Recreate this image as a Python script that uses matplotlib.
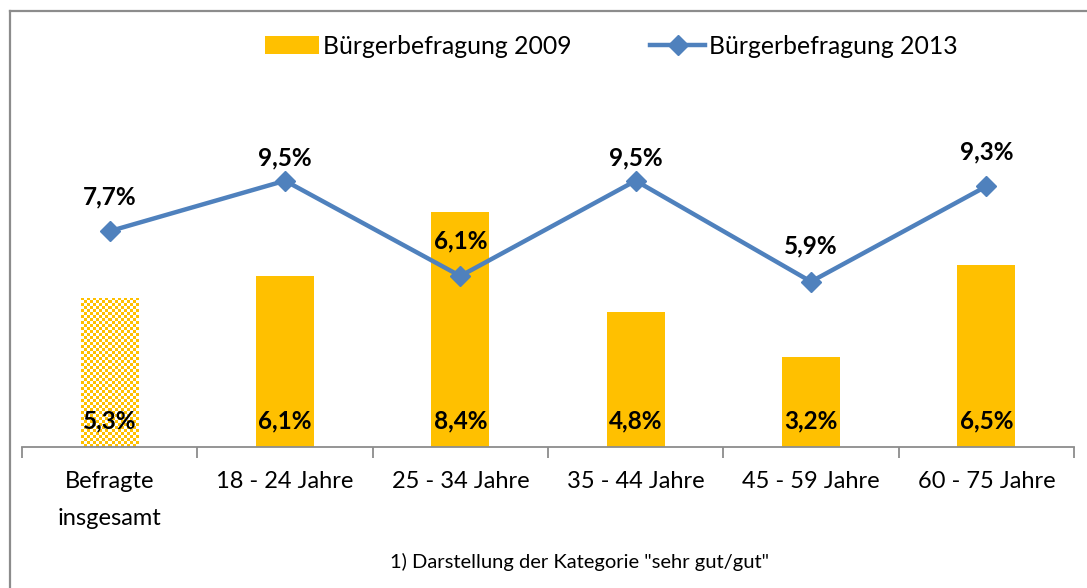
import numpy as np
import matplotlib.pyplot as plt
from matplotlib.lines import Line2D
from matplotlib.patches import Patch

plt.rcParams['font.family'] = ['Lato', 'DejaVu Sans']

categories = ['Befragte\ninsgesamt', '18 - 24 Jahre', '25 - 34 Jahre',
              '35 - 44 Jahre', '45 - 59 Jahre', '60 - 75 Jahre']
values_2009 = [5.3, 6.1, 8.4, 4.8, 3.2, 6.5]
values_2013 = [7.7, 9.5, 6.1, 9.5, 5.9, 9.3]
labels_2009 = ['5,3%', '6,1%', '8,4%', '4,8%', '3,2%', '6,5%']
labels_2013 = ['7,7%', '9,5%', '6,1%', '9,5%', '5,9%', '9,3%']

## Label placement above the line points (Excel pushed some down)
label_offsets = [1.23, 0.82, 1.27, 0.82, 1.29, 1.23]

BAR_COLOR = '#FFC000'
LINE_COLOR = '#4F81BD'
W, H = 1087, 588

fig = plt.figure(figsize=(W / 100, H / 100), dpi=100)

## Outer frame (top and left visible)
fig.add_artist(Line2D([10 / W, 10 / W], [0, 1 - 11 / H], transform=fig.transFigure,
                      color='#8c8c8c', lw=1.6))
fig.add_artist(Line2D([10 / W, 1], [1 - 11 / H, 1 - 11 / H], transform=fig.transFigure,
                      color='#8c8c8c', lw=1.6))

x0, x1 = 22, 1074
ybase, ytop = 447, 54.6
ax = fig.add_axes((x0 / W, 1 - ybase / H, (x1 - x0) / W, (ybase - ytop) / H))

x = np.arange(len(categories))
bars = ax.bar(x, values_2009, width=0.33, color=BAR_COLOR, zorder=2)

## Checkered first bar (roughly 3 px squares)
first = bars[0]
first.set_facecolor('white')
ny, nx = 131, 19
checker = (np.add.outer(np.arange(ny), np.arange(nx)) % 2).astype(float)
cmap = plt.matplotlib.colors.ListedColormap(['white', BAR_COLOR])
img = ax.imshow(checker, cmap=cmap, extent=(-0.165, 0.165, 0, 14),
                aspect='auto', interpolation='nearest', zorder=2.5)
img.set_clip_path(first)

ax.plot(x, values_2013, color=LINE_COLOR, lw=3.2, marker='D', ms=10,
        zorder=4)

for xi, lab in zip(x, labels_2009):
    ax.text(xi, 0.92, lab, ha='center', va='center', fontsize=17.5,
            fontweight='bold', zorder=5)
for xi, v, lab, off in zip(x, values_2013, labels_2013, label_offsets):
    ax.text(xi, v + off, lab, ha='center', va='center', fontsize=17.5,
            fontweight='bold', zorder=5)

ax.set_xlim(-0.5, len(categories) - 0.5)
ax.set_ylim(0, 14)
ax.set_yticks([])
ax.set_xticks(np.arange(len(categories) + 1) - 0.5, minor=True)
ax.set_xticks(x)
ax.set_xticklabels(categories, fontsize=17)
for tl in ax.get_xticklabels():
    tl.set_linespacing(1.95)
ax.tick_params(axis='x', which='major', length=0, pad=17.5)
ax.tick_params(axis='x', which='minor', length=8, color='#8c8c8c', width=1.3)
for side in ('top', 'right', 'left'):
    ax.spines[side].set_visible(False)
ax.spines['bottom'].set_color('#8c8c8c')
ax.spines['bottom'].set_linewidth(1.3)

handles = [Patch(facecolor=BAR_COLOR, label='Bürgerbefragung 2009'),
           Line2D([], [], color=LINE_COLOR, lw=3.2, marker='D', ms=10,
                  label='Bürgerbefragung 2013')]
fig.legend(handles=handles, loc='center', bbox_to_anchor=(611 / W, 1 - 46 / H),
           ncol=2, frameon=False, fontsize=17.8, handlelength=2.2,
           handletextpad=0.15, columnspacing=3.2)

fig.text(580 / W, 1 - 562 / H, '1) Darstellung der Kategorie "sehr gut/gut"',
         ha='center', va='center', fontsize=14.5)

fig.savefig('out.png', dpi=100)
